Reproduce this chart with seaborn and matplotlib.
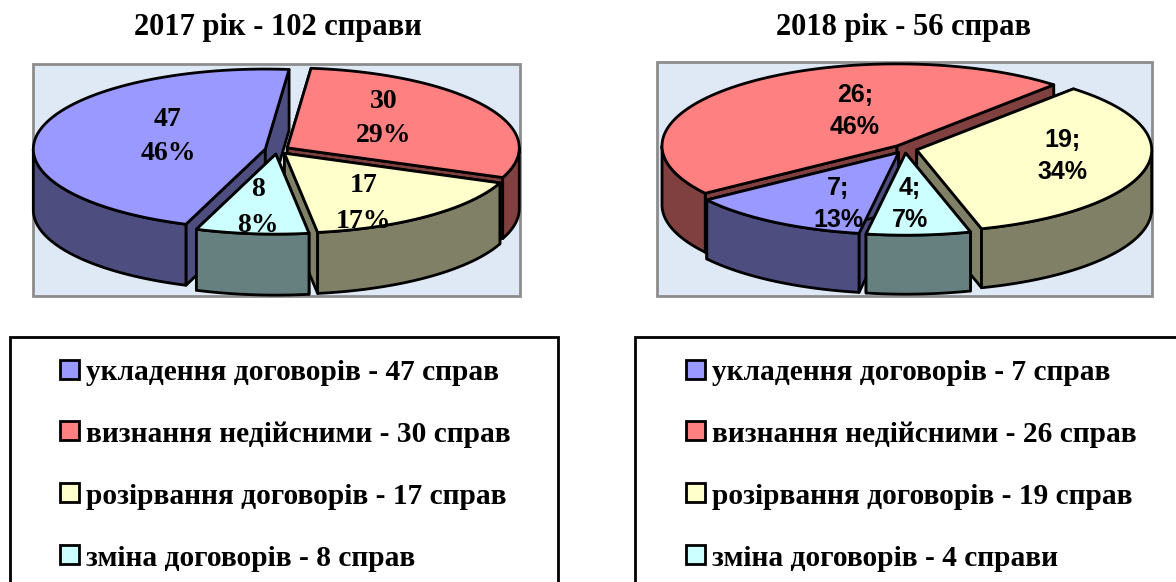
import numpy as np
import matplotlib
matplotlib.use("Agg")
import matplotlib.pyplot as plt
from matplotlib.patches import Polygon, Rectangle
import seaborn as sns

# ---- data ----
categories = ["укладення договорів", "визнання недійсними", "розірвання договорів", "зміна договорів"]
values_2017 = [47, 30, 17, 8]
values_2018 = [7, 26, 19, 4]
percent_2017 = [46, 29, 17, 8]
percent_2018 = [13, 46, 34, 7]
titles = ["2017 рік - 102 справи", "2018 рік - 56 справ"]
legend_2017 = ["укладення договорів - 47 справ", "визнання недійсними - 30 справ",
               "розірвання договорів - 17 справ", "зміна договорів - 8 справ"]
legend_2018 = ["укладення договорів - 7 справ", "визнання недійсними - 26 справ",
               "розірвання договорів - 19 справ", "зміна договорів - 4 справи"]
hex_colors = ["#9999FF", "#FF8080", "#FFFFCC", "#CCFFFF"]

sns.set_theme(style="white")
palette = sns.color_palette(hex_colors)
shades = [tuple(c * 0.5 for c in col) for col in palette]

W, H = 1176, 582
fig = plt.figure(figsize=(W / 100, H / 100), dpi=100)
ax = fig.add_axes([0, 0, 1, 1])
ax.set_xlim(0, W)
ax.set_ylim(H, 0)
ax.axis("off")

LW = 2.0
BG = "#DFE9F5"
EDGE = "#8C8C8C"


def pt(cx, cy, rx, ry, a):
    t = np.radians(a)
    return cx + rx * np.sin(t), cy - ry * np.cos(t)


def arc(cx, cy, rx, ry, a0, a1):
    n = max(2, int(abs(a1 - a0)) + 2)
    t = np.radians(np.linspace(a0, a1, n))
    return np.column_stack([cx + rx * np.sin(t), cy - ry * np.cos(t)])


def poly(xy, fc, z):
    ax.add_patch(Polygon(xy, closed=True, facecolor=fc, edgecolor="black",
                         linewidth=LW, joinstyle="round", zorder=z))


def pie3d(values, percents, frame, center, radii, depth, explode, start,
          order, text_pos, fmt, font):
    x0, y0, x1, y1 = frame
    ax.add_patch(Rectangle((x0, y0), x1 - x0, y1 - y0, facecolor=BG,
                           edgecolor=EDGE, linewidth=2, zorder=1))
    cx, cy = center
    rx, ry = radii
    total = sum(values)
    spans = np.array(values) / total * 360
    starts = start + np.concatenate([[0], np.cumsum(spans)[:-1]])
    z = 2
    for i in order:
        a0, a1 = starts[i], starts[i] + spans[i]
        mid = (a0 + a1) / 2
        ox, oy = pt(cx, cy, explode, explode * ry / rx, mid)
        tip = np.array([ox, oy])
        outer = arc(ox, oy, rx, ry, a0, a1)
        dz = np.array([0, depth])
        # radial cut walls
        for e in (outer[0], outer[-1]):
            poly(np.array([tip, e, e + dz, tip + dz]), shades[i], z)
            z += 1
        # outer rim: only the part facing the viewer
        for k in range(-1, 3):
            lo = max(a0, 90 + 360 * k)
            hi = min(a1, 270 + 360 * k)
            if hi > lo:
                top = arc(ox, oy, rx, ry, lo, hi)
                poly(np.vstack([top, (top + dz)[::-1]]), shades[i], z)
                z += 1
        # top face
        poly(np.vstack([[tip], outer]), palette[i], z)
        z += 1
        # labels sit on the face, below anything nearer the viewer
        tx, ty1, ty2 = text_pos[i]
        a, b = fmt(values[i], percents[i])
        for s, ty in ((a, ty1), (b, ty2)):
            ax.text(tx, ty, s, ha="center", va="center", color="black",
                    fontsize=font[1], fontweight="bold", family=font[0], zorder=z)
        z += 1


pie3d(values_2017, percent_2017, (33, 64, 520, 296), (277, 150), (232, 80), 61, 12, -160,
      [1, 0, 2, 3],
      [(168, 119, 154), (384, 102, 136), (364, 186, 221), (258, 190, 225)],
      lambda v, p: (f"{v}", f"{p}%"), ("Liberation Serif", 20))
pie3d(values_2018, percent_2018, (657, 62, 1152, 296), (905, 149), (235, 82), 59, 12, 189.7,
      [1, 0, 2, 3],
      [(838, 188, 220), (855, 95, 127), (1062, 140, 172), (910, 188, 220)],
      lambda v, p: (f"{v};", f"{p}%"), ("Liberation Sans", 18))

# titles
for s, xc in zip(titles, (278, 904)):
    ax.text(xc, 28, s, ha="center", va="center", fontsize=22, fontweight="bold",
            family="Liberation Serif", color="black", zorder=100)

# legends
rows = [373, 434, 496, 558]
for labels, box_x, box_r, sw_x in ((legend_2017, 10, 558, 60), (legend_2018, 635, 1190, 686)):
    ax.add_patch(Rectangle((box_x, 337), box_r - box_x, 300, facecolor="white",
                           edgecolor="black", linewidth=2, zorder=50))
    for i, (lab, y) in enumerate(zip(labels, rows)):
        ax.add_patch(Rectangle((sw_x, y - 13), 19, 19, facecolor=palette[i],
                               edgecolor="black", linewidth=2, zorder=51))
        ax.text(sw_x + 26, y, lab, ha="left", va="center", fontsize=21.2, fontweight="bold",
                family="Liberation Serif", color="black", zorder=52)

fig.savefig("out.png", dpi=100)
